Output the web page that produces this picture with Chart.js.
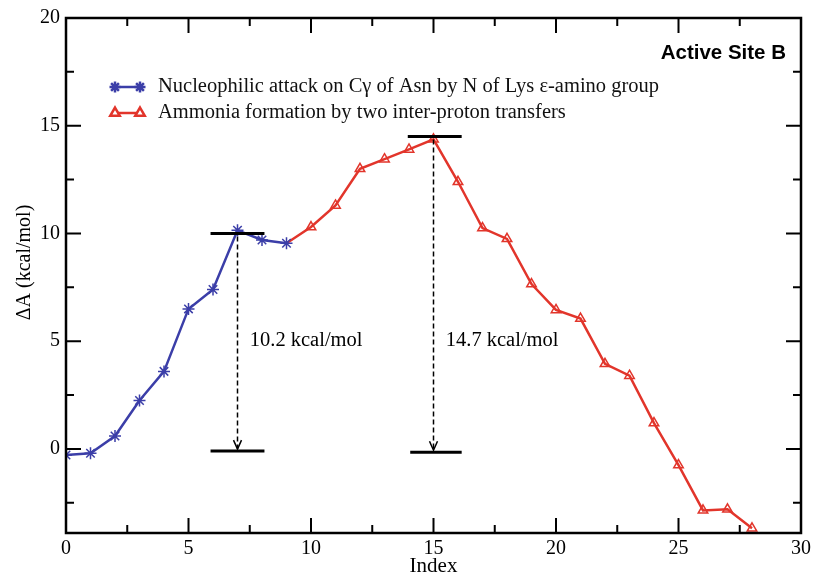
<!DOCTYPE html>
<html>
<head>
<meta charset="utf-8">
<script src="https://cdn.jsdelivr.net/npm/chart.js@4.4.0/dist/chart.umd.min.js"></script>
<style>
    html, body { margin: 0; padding: 0; background: #fff; }
    #wrap { width: 815px; height: 579px; }
</style>
</head>
<body>
<div id="wrap"><canvas id="myChart" width="815" height="579"></canvas></div>
<script>
// series
const nucleophilicIndex = [0, 1, 2, 3, 4, 5, 6, 7, 8, 9];
const nucleophilicEnergy = [-0.28, -0.2, 0.6, 2.25, 3.6, 6.5, 7.4, 10.15, 9.7, 9.55];
const ammoniaIndex = [9, 10, 11, 12, 13, 14, 15, 16, 17, 18, 19, 20, 21, 22, 23, 24, 25, 26, 27, 28];
const ammoniaEnergy = [9.55, 10.3, 11.3, 13.0, 13.45, 13.9, 14.37, 12.4, 10.25, 9.75, 7.65, 6.45, 6.05, 3.95, 3.4, 1.2, -0.75, -2.85, -2.8, -3.68];

const seriesLabels = [
    'Nucleophilic attack on C\u03B3 of Asn by N of Lys \u03B5-amino group',
    'Ammonia formation by two inter-proton transfers'
];

// axes
const xMajorTicks = [0, 5, 10, 15, 20, 25, 30];
const xMinorTicks = [2.5, 7.5, 12.5, 17.5, 22.5, 27.5];
const yMajorTicks = [0, 5, 10, 15, 20];
const yMinorTicks = [-2.5, 2.5, 7.5, 12.5, 17.5];
const yTitle = '\u0394A (kcal/mol)';

// barrier markers (index, energy)
const barrierLevels = [
    {from: 5.9, to: 8.1, y: 10},
    {from: 5.9, to: 8.1, y: -0.1},
    {from: 13.95, to: 16.15, y: 14.5},
    {from: 14.05, to: 16.15, y: -0.15}
];
const barrierArrows = [
    {x: 7, top: 10, bottom: -0.1},
    {x: 15, top: 14.5, bottom: -0.15}
];
const barrierTexts = [
    {x: 7.5, y: 5.05, text: '10.2 kcal/mol'},
    {x: 15.5, y: 5.05, text: '14.7 kcal/mol'}
];

const BLUE = '#3b3ea8';
const RED = '#e2352b';
const SERIF = '"Liberation Serif", "Times New Roman", serif';

const toPoints = (xs, ys) => xs.map((x, i) => ({x: x, y: ys[i]}));

const profileChart = {
    init: function () {
        this.generateChart();
    },

    framePlugin: {
        id: 'frame',
        afterDraw(chart) {
            const {ctx, chartArea: a, scales: {x, y}} = chart;
            ctx.save();
            ctx.strokeStyle = '#000';
            ctx.lineWidth = 2;
            ctx.beginPath();
            const xt = (v, len) => {
                const p = x.getPixelForValue(v);
                ctx.moveTo(p, a.bottom); ctx.lineTo(p, a.bottom - len);
                ctx.moveTo(p, a.top); ctx.lineTo(p, a.top + len);
            };
            const yt = (v, len) => {
                const p = y.getPixelForValue(v);
                ctx.moveTo(a.left, p); ctx.lineTo(a.left + len, p);
                ctx.moveTo(a.right, p); ctx.lineTo(a.right - len, p);
            };
            xMajorTicks.forEach(v => xt(v, 15));
            xMinorTicks.forEach(v => xt(v, 8));
            yMajorTicks.forEach(v => yt(v, 15));
            yMinorTicks.forEach(v => yt(v, 8));
            ctx.stroke();
            ctx.lineWidth = 2.5;
            ctx.strokeRect(a.left, a.top, a.right - a.left, a.bottom - a.top);

            // y axis title, set a little above centre like the original
            ctx.translate(25, (a.top + a.bottom) / 2 - 13);
            ctx.rotate(-Math.PI / 2);
            ctx.fillStyle = '#000';
            ctx.font = '20px ' + SERIF;
            ctx.textAlign = 'center';
            ctx.textBaseline = 'middle';
            ctx.fillText(yTitle, 0, 0);
            ctx.restore();
        }
    },

    annotationPlugin: {
        id: 'barriers',
        afterDatasetsDraw(chart) {
            const {ctx, chartArea: a, scales: {x, y}} = chart;
            ctx.save();

            // horizontal levels
            ctx.strokeStyle = '#000';
            ctx.lineWidth = 3;
            barrierLevels.forEach(b => {
                ctx.beginPath();
                ctx.moveTo(x.getPixelForValue(b.from), y.getPixelForValue(b.y));
                ctx.lineTo(x.getPixelForValue(b.to), y.getPixelForValue(b.y));
                ctx.stroke();
            });

            // dashed arrows
            barrierArrows.forEach(ar => {
                const px = x.getPixelForValue(ar.x);
                const top = y.getPixelForValue(ar.top);
                const bottom = y.getPixelForValue(ar.bottom) - 2;
                ctx.lineWidth = 1.5;
                ctx.setLineDash([5, 3]);
                ctx.beginPath();
                ctx.moveTo(px, top + 3);
                ctx.lineTo(px, bottom);
                ctx.stroke();
                ctx.setLineDash([]);
                ctx.beginPath();
                ctx.moveTo(px - 4, bottom - 9);
                ctx.lineTo(px, bottom);
                ctx.lineTo(px + 4, bottom - 9);
                ctx.stroke();
            });

            // barrier values
            ctx.fillStyle = '#000';
            ctx.font = '20.5px ' + SERIF;
            ctx.textAlign = 'left';
            ctx.textBaseline = 'middle';
            barrierTexts.forEach(t => {
                ctx.fillText(t.text, x.getPixelForValue(t.x), y.getPixelForValue(t.y));
            });

            // panel label
            ctx.font = 'bold 20.5px "Liberation Sans", Arial, sans-serif';
            ctx.textAlign = 'right';
            ctx.fillText('Active Site B', a.right - 15, a.top + 35);

            // legend
            chart.data.datasets.forEach((ds, i) => {
                const rowY = a.top + 69 + i * 26;
                const x1 = a.left + 49, x2 = a.left + 74;
                ctx.strokeStyle = ds.borderColor;
                ctx.lineWidth = 2.5;
                ctx.beginPath();
                ctx.moveTo(x1, rowY);
                ctx.lineTo(x2, rowY);
                ctx.stroke();
                [x1, x2].forEach(mx => {
                    ctx.fillStyle = '#fff';
                    ctx.strokeStyle = ds.borderColor;
                    Chart.helpers.drawPoint(ctx, {
                        pointStyle: ds.pointStyle,
                        radius: 5.5,
                        rotation: 0,
                        borderWidth: 1.5
                    }, mx, rowY);
                });
                ctx.fillStyle = '#111';
                ctx.font = '20.5px ' + SERIF;
                ctx.textAlign = 'left';
                ctx.fillText(ds.label, a.left + 92, rowY);
            });
            ctx.restore();
        }
    },

    generateChart: function () {
        const data = {
            datasets: [{
                label: seriesLabels[0],
                data: toPoints(nucleophilicIndex, nucleophilicEnergy),
                borderColor: BLUE,
                backgroundColor: BLUE,
                borderWidth: 2.5,
                pointStyle: 'star',
                pointRadius: 6,
                pointBorderWidth: 1.5,
                pointBorderColor: BLUE,
                tension: 0,
                order: 0
            }, {
                label: seriesLabels[1],
                data: toPoints(ammoniaIndex, ammoniaEnergy),
                borderColor: RED,
                backgroundColor: '#fff',
                borderWidth: 2.5,
                pointStyle: 'triangle',
                pointRadius: (c) => c.dataIndex === 0 ? 0 : 5.5,
                pointBorderWidth: 1.5,
                pointBorderColor: RED,
                pointBackgroundColor: 'rgba(255,255,255,0)',
                tension: 0,
                order: 1
            }]
        };

        const tickFont = {family: SERIF, size: 20};

        const scales = {
            x: {
                type: 'linear',
                min: 0,
                max: 30,
                afterBuildTicks: (s) => { s.ticks = xMajorTicks.map(v => ({value: v})); },
                afterFit: (s) => { s.height = 46; },
                ticks: {color: '#000', font: tickFont, padding: 4, maxRotation: 0},
                grid: {display: false, drawTicks: false},
                border: {display: false},
                title: {
                    display: true,
                    text: 'Index',
                    color: '#000',
                    font: {family: SERIF, size: 21},
                    padding: {top: 0, bottom: 0}
                }
            },
            y: {
                type: 'linear',
                min: -3.9,
                max: 20,
                afterBuildTicks: (s) => { s.ticks = yMajorTicks.map(v => ({value: v})); },
                afterFit: (s) => { s.width = 66; },
                ticks: {color: '#000', font: tickFont, padding: 6},
                grid: {display: false, drawTicks: false},
                border: {display: false}
            }
        };

        const config = {
            type: 'line',
            data,
            options: {
                responsive: false,
                animation: false,
                layout: {padding: {top: 18, right: 12, left: 0, bottom: 0}},
                scales: scales,
                plugins: {
                    legend: false,
                    tooltip: {enabled: false}
                }
            },
            plugins: [this.annotationPlugin, this.framePlugin]
        };

        new Chart(document.getElementById('myChart'), config);
    }
};

profileChart.init();
</script>
</body>
</html>
